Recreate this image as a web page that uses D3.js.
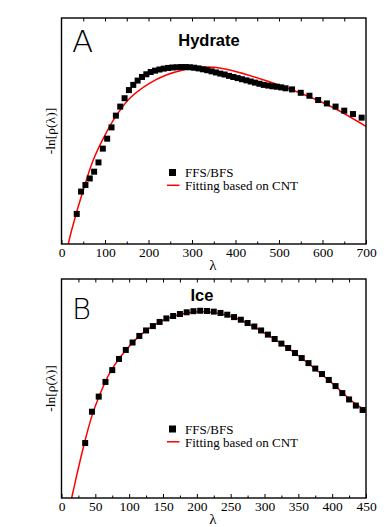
<!DOCTYPE html>
<html>
<head>
<meta charset="utf-8">
<script src="https://cdn.jsdelivr.net/npm/d3@7"></script>
<style>
  body { margin: 0; background: #fff; }
  svg { display: block; }
</style>
</head>
<body>
<div id="chart"></div>
<script>
// panel A: hydrate
const hydrateLambda = [35, 45, 55, 65, 75, 85, 95, 105, 115, 125, 135, 145, 155, 165, 175, 185, 195, 205, 215, 225, 235, 245, 255, 265, 275, 285, 295, 305, 315, 325, 335, 345, 355, 365, 375, 385, 395, 405, 415, 425, 435, 445, 455, 465, 475, 485, 495, 505, 515, 530, 550, 570, 590, 610, 630, 650, 670, 690];
const hydrateValues = [13.3, 23.2, 26.1, 29.0, 32.0, 36.1, 42.2, 46.6, 51.6, 56.8, 60.8, 64.5, 68.1, 70.4, 72.3, 73.9, 75.1, 76.1, 76.7, 77.2, 77.6, 77.9, 78.1, 78.2, 78.3, 78.3, 78.2, 78.0, 77.7, 77.3, 76.9, 76.4, 75.9, 75.4, 75.0, 74.4, 73.9, 73.4, 72.9, 72.4, 71.9, 71.4, 70.9, 70.4, 70.1, 69.8, 69.6, 69.3, 68.9, 68.4, 66.9, 65.6, 63.7, 62.2, 60.8, 59.0, 57.5, 55.9];
const hydrateFitLambda = [15.6, 23.4, 50, 73, 100, 127, 157, 203, 241, 280, 320, 350, 394, 471, 547, 623, 700];
const hydrateFitValues = [0, 6.2, 23.9, 37.2, 48.2, 57.1, 64.5, 71.2, 74.8, 77.0, 78.2, 78.2, 76.7, 72.2, 66.9, 60.5, 52.0];

// panel B: ice
const iceLambda = [35, 45, 55, 65, 75, 85, 95, 105, 115, 125, 135, 145, 155, 165, 175, 185, 195, 205, 215, 225, 235, 245, 255, 265, 275, 285, 295, 305, 315, 325, 335, 345, 355, 365, 375, 385, 395, 405, 415, 425, 435, 445];
const iceValues = [25.1, 39.4, 46.3, 53.0, 58.4, 63.5, 67.6, 71.0, 74.0, 76.5, 78.5, 80.4, 82.0, 83.1, 84.0, 84.8, 85.3, 85.5, 85.4, 85.1, 84.5, 83.7, 82.6, 81.4, 79.9, 78.3, 76.5, 74.6, 72.6, 70.5, 68.5, 66.2, 63.9, 61.6, 59.1, 56.6, 53.9, 51.1, 47.9, 45.0, 42.2, 40.2];
const iceFitLambda = [15, 25, 35, 45, 55, 72, 96, 121, 155, 205, 254, 303, 352, 401.6, 431, 450];
const iceFitValues = [0, 13.7, 26.5, 37.5, 46.0, 57.5, 67.8, 75.5, 81.8, 85.0, 82.5, 74.8, 64.5, 52.0, 43.8, 39.9];

const hydrateMajorTicks = [0, 100, 200, 300, 400, 500, 600, 700];
const hydrateMinorTicks = [50, 150, 250, 350, 450, 550, 650];
const iceMajorTicks = [0, 50, 100, 150, 200, 250, 300, 350, 400, 450];
const iceMinorTicks = [25, 75, 125, 175, 225, 275, 325, 375, 425];

const legendLabels = ['FFS/BFS', 'Fitting based on CNT'];

const W = 391, H = 527;
const svg = d3.select('#chart').append('svg')
  .attr('width', W).attr('height', H);

const serif = '"Liberation Serif", "Times New Roman", serif';
const sans = '"Liberation Sans", Arial, sans-serif';

const drawPanel = (p) => {
  const x = d3.scaleLinear().domain(p.xDomain).range([61.5, 366]);
  const y = d3.scaleLinear().domain([0, 100]).range([p.bottom, p.top]);
  const g = svg.append('g');

  const clipId = 'clip-' + p.letter;
  g.append('clipPath').attr('id', clipId)
    .append('rect')
    .attr('x', 61.5).attr('y', p.top)
    .attr('width', 366 - 61.5).attr('height', p.bottom - p.top);

  // fit curve
  const line = d3.line()
    .x(d => x(d[0])).y(d => y(d[1]))
    .curve(d3.curveCatmullRom.alpha(0.5));
  g.append('path')
    .datum(d3.zip(p.fitX, p.fitY))
    .attr('clip-path', `url(#${clipId})`)
    .attr('fill', 'none')
    .attr('stroke', '#ff0000')
    .attr('stroke-width', 1.5)
    .attr('d', line);

  // simulation points
  const s = 6;
  g.append('g').selectAll('rect')
    .data(d3.zip(p.ptsX, p.ptsY))
    .join('rect')
    .attr('x', d => x(d[0]) - s / 2)
    .attr('y', d => y(d[1]) - s / 2)
    .attr('width', s).attr('height', s)
    .attr('fill', '#000');

  // frame
  g.append('rect')
    .attr('x', 61.5).attr('y', p.top)
    .attr('width', 366 - 61.5).attr('height', p.bottom - p.top)
    .attr('fill', 'none').attr('stroke', '#000').attr('stroke-width', 1.4);

  // bottom axis, ticks pointing inward
  const bottom = g.append('g')
    .attr('transform', `translate(0,${p.bottom})`)
    .call(d3.axisBottom(x).tickValues(p.major).tickSize(-4).tickPadding(3.5).tickFormat(d3.format('d')));
  bottom.select('.domain').remove();
  bottom.attr('font-family', serif).attr('font-size', 13.5);
  bottom.selectAll('text').attr('fill', '#000');
  const bottomMinor = g.append('g')
    .attr('transform', `translate(0,${p.bottom})`)
    .call(d3.axisBottom(x).tickValues(p.minor).tickSize(-2.5).tickFormat(''));
  bottomMinor.select('.domain').remove();

  // top axis, ticks inward
  const top = g.append('g')
    .attr('transform', `translate(0,${p.top})`)
    .call(d3.axisTop(x).tickValues(p.major.concat(p.minor).filter(v => v > p.xDomain[0] && v < p.xDomain[1])).tickSize(-3.5).tickFormat(''));
  top.select('.domain').remove();

  g.selectAll('.tick line').attr('stroke', '#000').attr('stroke-width', 1);

  // x label
  g.append('text')
    .attr('x', 213).attr('y', p.bottom + p.xLabelDy)
    .attr('text-anchor', 'middle')
    .attr('font-family', serif).attr('font-size', 15)
    .text('λ');

  // y label
  g.append('text')
    .attr('transform', `translate(55,${(p.top + p.bottom) / 2}) rotate(-90)`)
    .attr('text-anchor', 'middle')
    .attr('font-family', serif).attr('font-size', 13.5)
    .text('-ln[ρ(λ)]');

  // panel letter and title
  g.append('text')
    .attr('x', 72).attr('y', p.top + p.letterDy)
    .attr('font-family', '"DejaVu Sans", sans-serif').attr('font-weight', 200)
    .attr('font-size', p.letterSize)
    .text(p.letter);
  g.append('text')
    .attr('x', p.titleX).attr('y', p.top + p.titleDy)
    .attr('text-anchor', 'middle')
    .attr('font-family', sans).attr('font-weight', 'bold').attr('font-size', 16.5)
    .text(p.title);

  // legend
  const lg = g.append('g').attr('transform', `translate(0,${p.legendY})`);
  lg.append('rect').attr('x', 169).attr('y', -3.5).attr('width', 7).attr('height', 7).attr('fill', '#000');
  lg.append('line').attr('x1', 167).attr('x2', 179.5).attr('y1', 12.8).attr('y2', 12.8)
    .attr('stroke', '#ff0000').attr('stroke-width', 1.5);
  lg.selectAll('text.leg').data(legendLabels).join('text')
    .attr('class', 'leg')
    .attr('x', 185).attr('y', (d, i) => 4.5 + i * 13)
    .attr('font-family', serif).attr('font-size', 13)
    .text(d => d);
};

drawPanel({
  letter: 'A', title: 'Hydrate', top: 18, bottom: 244,
  xDomain: [0, 700], major: hydrateMajorTicks, minor: hydrateMinorTicks,
  ptsX: hydrateLambda, ptsY: hydrateValues,
  fitX: hydrateFitLambda, fitY: hydrateFitValues,
  xLabelDy: 26, letterDy: 33.5, letterSize: 31, titleX: 209, titleDy: 28,
  legendY: 172.5
});

drawPanel({
  letter: 'B', title: 'Ice', top: 279, bottom: 498,
  xDomain: [0, 450], major: iceMajorTicks, minor: iceMinorTicks,
  ptsX: iceLambda, ptsY: iceValues,
  fitX: iceFitLambda, fitY: iceFitValues,
  xLabelDy: 26, letterDy: 39.5, letterSize: 29, titleX: 202, titleDy: 21.5,
  legendY: 429
});
</script>
</body>
</html>
